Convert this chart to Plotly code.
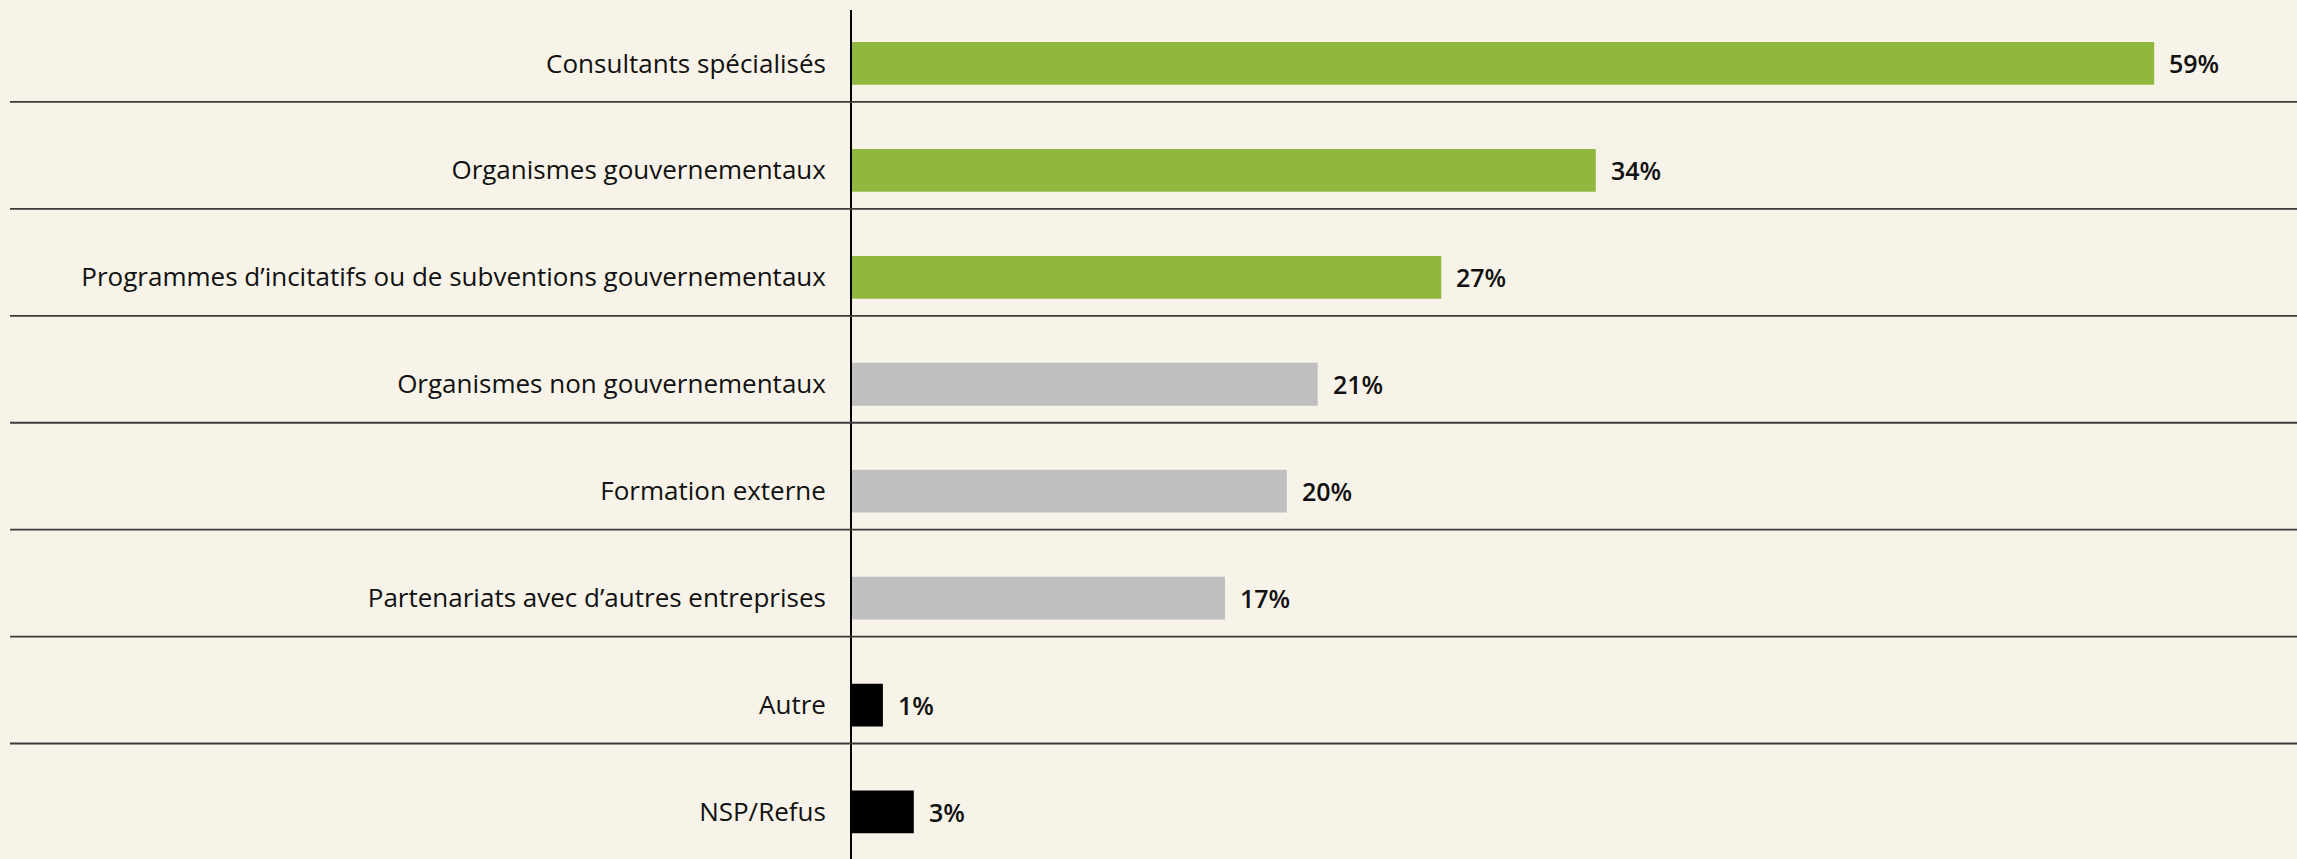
import plotly.graph_objects as go

categories = [
    "Consultants spécialisés",
    "Organismes gouvernementaux",
    "Programmes d’incitatifs ou de subventions gouvernementaux",
    "Organismes non gouvernementaux",
    "Formation externe",
    "Partenariats avec d’autres entreprises",
    "Autre",
    "NSP/Refus",
]
values = [59, 33.7, 26.7, 21.1, 19.7, 16.9, 1.4, 2.8]
value_labels = ["59%", "34%", "27%", "21%", "20%", "17%", "1%", "3%"]
bar_colors = ["#92b73f"] * 3 + ["#bfbfbf"] * 3 + ["#000000"] * 2

BG = "#f7f3e8"
FONT = "Open Sans"

fig = go.Figure(go.Bar(
    x=values,
    y=categories,
    orientation="h",
    width=0.40,
    marker=dict(color=bar_colors, line=dict(width=0)),
    hoverinfo="skip",
))

# percentage labels to the right of each bar
for cat, v, lab in zip(categories, values, value_labels):
    fig.add_annotation(
        x=v, y=cat, text=lab,
        xanchor="left", yanchor="middle", xshift=13, showarrow=False,
        font=dict(size=25, color="#111111", family=FONT, weight=600),
    )

# horizontal separators between rows
for i in range(len(categories) - 1):
    fig.add_shape(
        type="line", xref="paper", yref="y",
        x0=-0.5827, x1=1.03, y0=i + 0.36, y1=i + 0.36,
        line=dict(color="#3c3c3c", width=1.8),
    )

fig.update_layout(
    width=2297, height=859,
    margin=dict(l=852, r=0, t=10, b=0),
    paper_bgcolor=BG, plot_bgcolor=BG,
    showlegend=False,
    font=dict(family=FONT, size=26, color="#111111"),
    xaxis=dict(range=[0, 65.47], visible=False, showgrid=False, zeroline=False),
    yaxis=dict(
        categoryorder="array", categoryarray=categories,
        range=[7.44, -0.5],
        showgrid=False, zeroline=False,
        showline=True, linecolor="#000000", linewidth=1.8,
        ticks="", ticklabelstandoff=19,
        tickfont=dict(size=26, family=FONT, color="#111111"),
    ),
)

# page fills the window exactly: no body margin, no scrollbars
fig.write_html(
    "out.html",
    config={"displayModeBar": False},
    post_script="document.body.style.background='%s';"
                "document.body.style.margin='0';"
                "document.body.style.overflow='hidden';" % BG,
)
